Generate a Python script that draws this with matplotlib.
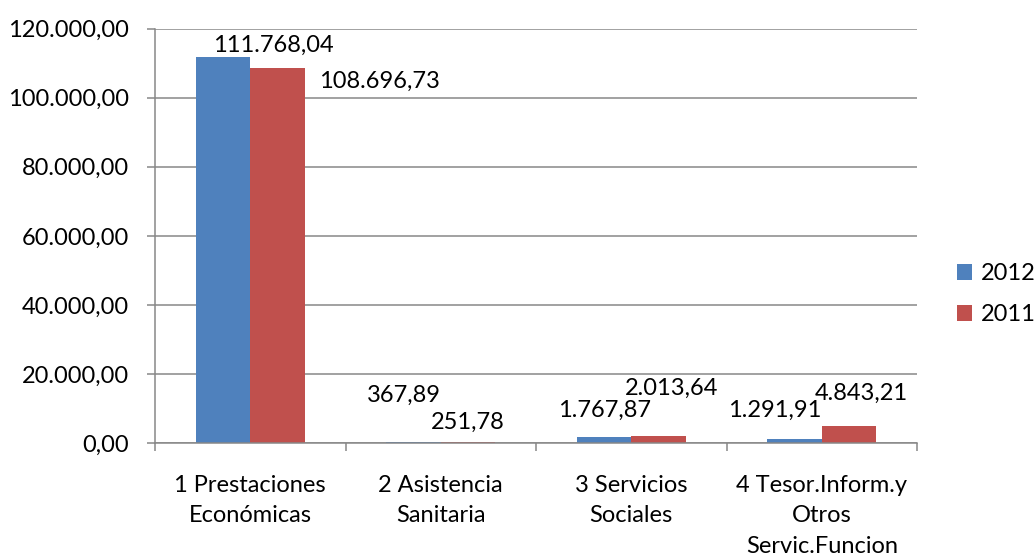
import numpy as np
import matplotlib.pyplot as plt

plt.rcParams['font.family'] = ['Lato', 'DejaVu Sans']

categories = ['1 Prestaciones\nEconómicas', '2 Asistencia\nSanitaria',
              '3 Servicios\nSociales', '4 Tesor.Inform.y\nOtros\nServic.Funcion']
vals_2012 = [111768.04, 367.89, 1767.87, 1291.91]
vals_2011 = [108696.73, 251.78, 2013.64, 4843.21]
series_names = ['2012', '2011']
colors = ['#4F81BD', '#C0504D']

# data labels were moved by hand in the original, offsets in pixels (dx, dy)
offs_2012 = [(50, 12), (-10, 46), (0, 27), (-20, 28)]
offs_2011 = [(102, -14), (0, 20), (13, 48), (12, 33)]


def fmt_es(v):
    s = '{:,.2f}'.format(v)
    return s.replace(',', 'X').replace('.', ',').replace('X', '.')


fig = plt.figure(figsize=(10.36, 5.6), dpi=100)
ax = fig.add_axes([155 / 1036, 117 / 560, 762 / 1036, 414.3 / 560])

x = np.arange(len(categories))
w = 0.285
grid_c = '#878787'
fs = 17

ax.set_axisbelow(True)
ax.yaxis.grid(True, color=grid_c, linewidth=1.1)
b1 = ax.bar(x - w / 2, vals_2012, w, color=colors[0], label=series_names[0])
b2 = ax.bar(x + w / 2, vals_2011, w, color=colors[1], label=series_names[1])

for bars, vals, offs in [(b1, vals_2012, offs_2012), (b2, vals_2011, offs_2011)]:
    for rect, v, (dx, dy) in zip(bars, vals, offs):
        ax.annotate(fmt_es(v), (rect.get_x() + rect.get_width() / 2, v),
                    xytext=(dx, dy), textcoords='offset pixels',
                    ha='center', va='center', fontsize=fs, color='black')

ax.set_xlim(-0.5, len(categories) - 0.5)
ax.set_ylim(0, 120000)
ax.set_yticks(np.arange(0, 120001, 20000))
ax.set_yticklabels([fmt_es(t) for t in np.arange(0, 120001, 20000)], fontsize=fs)
ax.tick_params(axis='y', length=6, width=1.1, color=grid_c, pad=13)

ax.set_xticks(x)
ax.set_xticklabels(categories, fontsize=fs, linespacing=1.55)
ax.tick_params(axis='x', which='major', length=0, pad=23)
ax.set_xticks(np.arange(-0.5, len(categories), 1), minor=True)
ax.tick_params(axis='x', which='minor', length=6, width=1.1, color=grid_c)

for side in ['top', 'right']:
    ax.spines[side].set_visible(False)
for side in ['left', 'bottom']:
    ax.spines[side].set_color(grid_c)
    ax.spines[side].set_linewidth(1.1)

fig.legend(loc='center left', bbox_to_anchor=(957 / 1036, 0.475), frameon=False,
           fontsize=fs, handlelength=0.65, handleheight=0.65, handletextpad=0.35,
           labelspacing=0.85, borderpad=0, borderaxespad=0)

fig.savefig('out.png', dpi=100)
